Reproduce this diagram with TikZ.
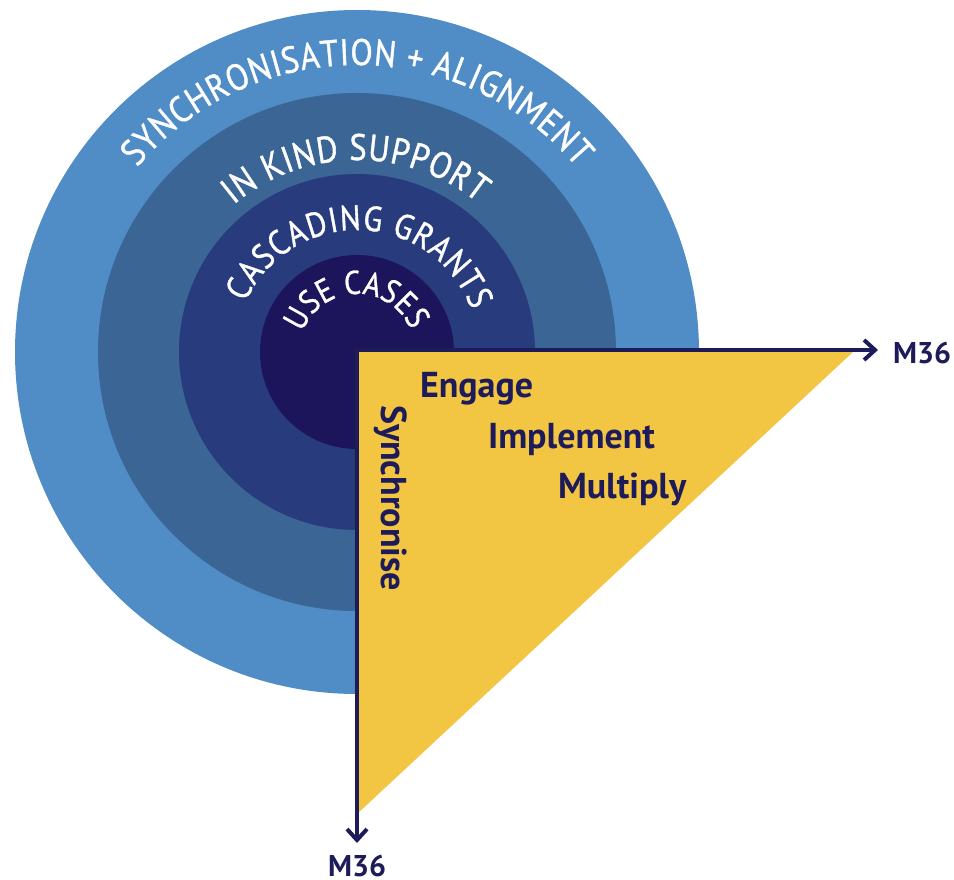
\documentclass[tikz,border=0pt]{standalone}
\usepackage{fontspec}
\setmainfont{PT Sans}
\newfontfamily\ringfont[FakeStretch=0.88,FakeBold=1]{PT Sans}
\usetikzlibrary{decorations.text,arrows.meta,calc}

\newcommand\ringtextA{\ringfont\fontsize{37pt}{37pt}\selectfont}
\newcommand\ringtextB{\ringfont\fontsize{37pt}{37pt}\selectfont}
\newcommand\ringtextC{\ringfont\fontsize{35pt}{35pt}\selectfont}
\newcommand\ringtextD{\ringfont\fontsize{33pt}{33pt}\selectfont}

\begin{document}
\begin{tikzpicture}[x=1pt,y=-1pt,line cap=rect]
\definecolor{custcol_ring_a}{RGB}{80, 141, 198}
\definecolor{custcol_ring_b}{RGB}{58, 101, 148}
\definecolor{custcol_ring_c}{RGB}{40, 59, 124}
\definecolor{custcol_ring_d}{RGB}{28, 21, 92}
\definecolor{custcol_yellow}{RGB}{242, 198, 66}
\definecolor{custcol_navy}{RGB}{30, 27, 90}
\tikzset{
  ringlabel/.style={decorate, decoration={text along path, text color=white, text align=fit to path}},
  phase/.style={inner sep=0, outer sep=0, custcol_navy, anchor=base west, font=\fontsize{36pt}{36pt}\bfseries\selectfont},
  axis/.style={line width=4pt, custcol_navy, {Straight Barb[length=11pt,width=20pt,line width=4pt]}-{Straight Barb[length=11pt,width=20pt,line width=4pt]}}
}
\useasboundingbox (0,0) rectangle (954,880);
\coordinate (ctr) at (357,352);
% rings, outside in, lower right quarter left open
\fill [custcol_ring_a] (ctr) -- +(0:342) arc [start angle=0, end angle=-270, radius=342] -- cycle;
\fill [custcol_ring_b] (ctr) -- +(0:259) arc [start angle=0, end angle=-270, radius=259] -- cycle;
\fill [custcol_ring_c] (ctr) -- +(0:178) arc [start angle=0, end angle=-270, radius=178] -- cycle;
\fill [custcol_ring_d] (ctr) -- +(0:97) arc [start angle=0, end angle=-270, radius=97] -- cycle;
\path [ringlabel, decoration={text={|\ringtextA|SYNCHRONISATION + ALIGNMENT}}] ($(ctr)+(-140:287)$) arc [start angle=-140, end angle=-40, radius=287];
\path [ringlabel, decoration={text={|\ringtextB|IN KIND SUPPORT}}] ($(ctr)+(-130:192)$) arc [start angle=-130, end angle=-51, radius=192];
\path [ringlabel, decoration={text={|\ringtextC|CASCADING GRANTS}}] ($(ctr)+(-156:122)$) arc [start angle=-156, end angle=-20, radius=122];
\path [ringlabel, decoration={text={|\ringtextD|USE CASES}}] ($(ctr)+(-160:58)$) arc [start angle=-160, end angle=-22, radius=58];
% phase triangle
\fill [custcol_yellow] (357,352) -- (853,352) -- (357,814) -- cycle;
\coordinate (corner) at (357,350);
\coordinate (tipr) at (878,350);
\coordinate (tipd) at (357,843);
\draw [axis] (tipr) -- (corner) -- (tipd);
\node [phase, text depth=0pt, font=\fontsize{30pt}{30pt}\bfseries\selectfont] (m36r) at (893,363) {M36};
\node [phase, text depth=0pt, font=\fontsize{30pt}{30pt}\bfseries\selectfont] (m36d) at (328,876) {M36};
\node [phase] (engage) at (420,397) {Engage};
\node [phase] (implement) at (488,448) {Implement};
\node [phase] (multiply) at (558,498) {Multiply};
\node [phase, rotate=-90] (sync) at (381,405) {Synchronise};
\end{tikzpicture}
\end{document}
